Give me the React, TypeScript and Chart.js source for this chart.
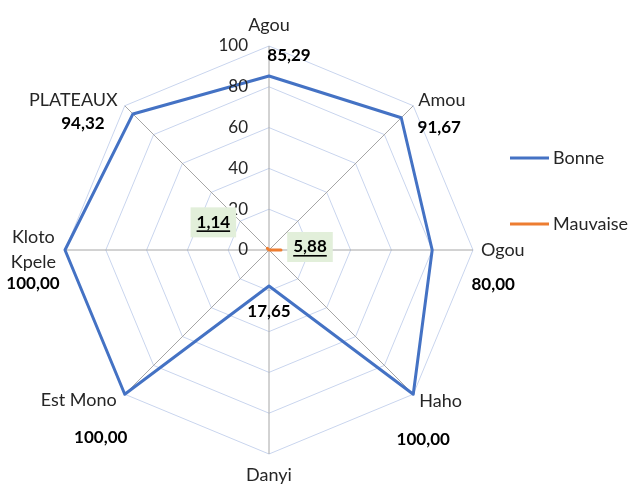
import React, { useEffect, useRef } from "react";
import { Chart, registerables } from "chart.js";

Chart.register(...registerables);

const categories: (string | string[])[] = [
  "Agou",
  "Amou",
  "Ogou",
  "Haho",
  "Danyi",
  "Est Mono",
  ["Kloto", "Kpele"],
  "PLATEAUX",
];
const seriesNames = ["Bonne", "Mauvaise"];
const bonne = [85.29, 91.67, 80.0, 100, 17.65, 100, 100, 94.32];
const mauvaise = [0, 0, 5.88, 0, 0, 0, 0, 1.14];
const tickValues = [0, 20, 40, 60, 80, 100];

const FONT = "Lato, 'Liberation Sans', sans-serif";
const TEXT = "#262626";
const BLUE = "#4472C4";
const ORANGE = "#ED7D31";
const GRID = "#C9D5EE";
const SPOKE = "#A6A6A6";
const LABEL_BG = "#E2EFDA";

// style: placement of category names relative to each 100 vertex
const nameStyle = [
  { align: "center", dx: 0, dy: -21 },
  { align: "left", dx: 5, dy: -6 },
  { align: "left", dx: 8, dy: 0 },
  { align: "left", dx: 6, dy: 7 },
  { align: "center", dx: 0, dy: 21 },
  { align: "right", dx: -8, dy: 6 },
  { align: "right", dx: -9, dy: 0 },
  { align: "right", dx: -7, dy: -6 },
];
// style: offsets of data labels from their points
const bonneLabelOffset = [
  [20, -20],
  [38, 10],
  [61, 35],
  [10, 45],
  [0, 26],
  [-24, 43],
  [-32, 34],
  [-50, 10],
];
const mauvaiseLabelOffset = [
  [0, 0],
  [0, 0],
  [29, -3],
  [0, 0],
  [0, 0],
  [0, 0],
  [0, 0],
  [-54, -26],
];

const fmt = (v: number) => v.toFixed(2).replace(".", ",");

const labelPlugin = {
  id: "customLabels",
  afterDatasetsDraw(chart: any) {
    const ctx: CanvasRenderingContext2D = chart.ctx;
    const scale = chart.scales.r;
    const cx = scale.xCenter;
    const cy = scale.yCenter;
    ctx.save();

    // tick labels
    ctx.font = `17px ${FONT}`;
    ctx.fillStyle = TEXT;
    ctx.textAlign = "right";
    ctx.textBaseline = "middle";
    tickValues.forEach((v) => {
      const d = scale.getDistanceFromCenterForValue(v);
      ctx.fillText(String(v), cx - 21, cy - d);
    });

    // category names
    ctx.font = `18px ${FONT}`;
    categories.forEach((lab, i) => {
      const p = scale.getPointPosition(i, scale.drawingArea);
      const st = nameStyle[i];
      const lines = Array.isArray(lab) ? lab : [lab];
      const lh = 25;
      const widths = lines.map((l) => ctx.measureText(l).width);
      const maxW = Math.max(...widths);
      const x0 = p.x + st.dx;
      const y0 = p.y + st.dy - ((lines.length - 1) * lh) / 2;
      lines.forEach((l, k) => {
        let x = x0;
        if (lines.length > 1) {
          ctx.textAlign = "center";
          x = st.align === "right" ? x0 - maxW / 2 : st.align === "left" ? x0 + maxW / 2 : x0;
        } else {
          ctx.textAlign = st.align as CanvasTextAlign;
        }
        ctx.fillText(l, x, y0 + k * lh);
      });
    });

    // data labels Bonne
    ctx.font = `bold 17px ${FONT}`;
    ctx.fillStyle = "#000";
    ctx.textAlign = "center";
    ctx.textBaseline = "middle";
    bonne.forEach((v, i) => {
      const p = scale.getPointPosition(i, scale.getDistanceFromCenterForValue(v));
      const [dx, dy] = bonneLabelOffset[i];
      ctx.fillText(fmt(v), p.x + dx, p.y + dy);
    });

    // data labels Mauvaise (non-zero only), boxed and underlined
    mauvaise.forEach((v, i) => {
      if (!v) return;
      const p = scale.getPointPosition(i, scale.getDistanceFromCenterForValue(v));
      const [dx, dy] = mauvaiseLabelOffset[i];
      const x = p.x + dx;
      const y = p.y + dy;
      const t = fmt(v);
      const w = ctx.measureText(t).width;
      ctx.fillStyle = LABEL_BG;
      ctx.fillRect(x - w / 2 - 6, y - 15, w + 12, 30);
      ctx.fillStyle = "#000";
      ctx.fillText(t, x, y);
      ctx.fillRect(x - w / 2, y + 8, w, 1.6);
    });

    // legend
    const legendY = [158, 224];
    const legendColors = [BLUE, ORANGE];
    ctx.font = `18px ${FONT}`;
    ctx.textAlign = "left";
    ctx.textBaseline = "middle";
    seriesNames.forEach((n, k) => {
      ctx.strokeStyle = legendColors[k];
      ctx.lineWidth = 3;
      ctx.beginPath();
      ctx.moveTo(510, legendY[k]);
      ctx.lineTo(549, legendY[k]);
      ctx.stroke();
      ctx.fillStyle = TEXT;
      ctx.fillText(n, 553, legendY[k]);
    });

    ctx.restore();
  },
};

export default function App() {
  const ref = useRef<HTMLCanvasElement>(null);
  useEffect(() => {
    if (!ref.current) return;
    const chart = new Chart(ref.current, {
      type: "radar",
      data: {
        labels: categories as any,
        datasets: [
          {
            label: seriesNames[0],
            data: bonne,
            borderColor: BLUE,
            backgroundColor: BLUE,
            borderWidth: 3,
            fill: false,
            pointRadius: 0,
            borderJoinStyle: "round",
          },
          {
            label: seriesNames[1],
            data: mauvaise,
            borderColor: ORANGE,
            backgroundColor: ORANGE,
            borderWidth: 3,
            fill: false,
            pointRadius: 0,
            borderJoinStyle: "round",
          },
        ],
      },
      options: {
        responsive: false,
        animation: false,
        devicePixelRatio: 1,
        layout: { padding: { left: 65, right: 158, top: 46, bottom: 33 } },
        plugins: {
          legend: { display: false },
          tooltip: { enabled: false },
        },
        elements: { line: { tension: 0 } },
        scales: {
          r: {
            min: 0,
            max: 100,
            ticks: { stepSize: 20, display: false },
            pointLabels: { display: false },
            grid: { color: GRID, lineWidth: 1 },
            angleLines: { color: SPOKE, lineWidth: 1 },
          },
        },
      } as any,
      plugins: [labelPlugin],
    });
    return () => chart.destroy();
  }, []);
  return (
    <div style={{ position: "absolute", left: 0, top: 0, width: 631, height: 487, background: "#fff" }}>
      <canvas ref={ref} width={631} height={487} style={{ display: "block" }} />
    </div>
  );
}
